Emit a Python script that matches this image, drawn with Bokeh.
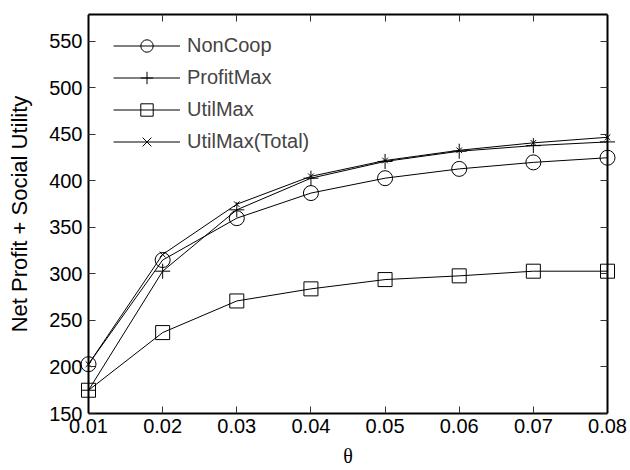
from bokeh.plotting import figure
from bokeh.models import LinearAxis, FixedTicker, Range1d, Legend, LegendItem
from bokeh.embed import file_html
from bokeh.resources import INLINE

theta = [0.01, 0.02, 0.03, 0.04, 0.05, 0.06, 0.07, 0.08]
noncoop = [203, 315, 360, 387, 403, 413, 420, 425]
profitmax = [175, 303, 369, 403, 421, 432, 438, 442]
utilmax = [175, 237, 271, 284, 294, 298, 303, 303]
utilmax_total = [203, 321, 375, 405, 422, 433, 441, 447]

x_ticks = [0.01, 0.02, 0.03, 0.04, 0.05, 0.06, 0.07, 0.08]
x_tick_labels = ["0.01", "0.02", "0.03", "0.04", "0.05", "0.06", "0.07", "0.08"]
y_ticks = [150, 200, 250, 300, 350, 400, 450, 500, 550]

X0, X1 = 0.01, 0.08
Y0, Y1 = 150, 579
PAD = 10  # px of room left/right of the axes box so edge markers are not clipped
inner_w, inner_h = 519, 399
dx = PAD * (X1 - X0) / inner_w

FONT = "Liberation Sans"

p = figure(width=630, height=470, output_backend="svg", toolbar_location=None,
           x_range=Range1d(X0 - dx, X1 + dx), y_range=Range1d(Y0, Y1),
           min_border_left=88 - PAD, min_border_right=23 - PAD,
           min_border_top=14, min_border_bottom=57,
           x_axis_location=None, y_axis_location=None)
p.xgrid.visible = False
p.ygrid.visible = False
p.outline_line_color = None
p.background_fill_color = "white"
p.border_fill_color = "white"

def style_axis(ax, show_labels=True, show_line=True):
    ax.axis_line_color = "black" if show_line else None
    ax.axis_line_width = 2
    ax.major_tick_in = 7
    ax.major_tick_out = 0
    ax.minor_tick_line_color = None
    ax.major_tick_line_color = "#333333" if show_line else None
    ax.major_tick_line_width = 1
    ax.major_label_text_font = FONT
    ax.major_label_text_font_size = "20px"
    ax.major_label_text_color = "black" if show_labels else None

# bottom axis: line, ticks, labels and the θ title
xa = LinearAxis(ticker=FixedTicker(ticks=x_ticks), bounds=(X0, X1))
style_axis(xa)
xa.major_label_overrides = {t: l for t, l in zip(x_ticks, x_tick_labels)}
xa.major_label_standoff = 5
xa.axis_label = "θ"
xa.axis_label_text_font = "Liberation Serif"
xa.axis_label_text_font_style = "normal"
xa.axis_label_text_font_size = "20px"
xa.axis_label_text_color = "black"
xa.axis_label_standoff = 9
p.add_layout(xa, "below")

# top axis: line and ticks
top = LinearAxis(ticker=FixedTicker(ticks=x_ticks), bounds=(X0, X1))
style_axis(top, show_labels=False)
p.add_layout(top, "above")

# left axis: labels only (panel); line+ticks drawn by a fixed-location axis
ya = LinearAxis(ticker=FixedTicker(ticks=y_ticks))
style_axis(ya, show_line=False)
ya.major_label_standoff = 6 - PAD
ya.axis_label = "Net Profit + Social Utility"
ya.axis_label_text_font = FONT
ya.axis_label_text_font_style = "normal"
ya.axis_label_text_font_size = "22px"
ya.axis_label_text_color = "black"
ya.axis_label_standoff = 14
p.add_layout(ya, "left")

ya_line = LinearAxis(ticker=FixedTicker(ticks=y_ticks), fixed_location=X0, bounds=(Y0, Y1))
style_axis(ya_line, show_labels=False)
p.add_layout(ya_line, "left")

right = LinearAxis(ticker=FixedTicker(ticks=y_ticks), fixed_location=X1, bounds=(Y0, Y1))
style_axis(right, show_labels=False)
p.add_layout(right, "right")

items = []
series = [
    ("NonCoop", noncoop, "circle", 15),
    ("ProfitMax", profitmax, "cross", 15),
    ("UtilMax", utilmax, "square", 14),
    ("UtilMax(Total)", utilmax_total, "x", 8),
]
for name, ys, marker, size in series:
    l = p.line(theta, ys, line_color="black", line_width=1)
    s = p.scatter(theta, ys, marker=marker, size=size, fill_color=None,
                  line_color="black", line_width=1)
    items.append(LegendItem(label=name, renderers=[l, s]))

legend = Legend(items=items, location=(25 + PAD, inner_h - 16 - 127),
                padding=0, margin=0,
                glyph_width=67, glyph_height=31, spacing=1, label_standoff=7,
                label_text_font=FONT, label_text_font_size="20px",
                border_line_color=None, background_fill_alpha=0)
p.add_layout(legend, "center")

open("out.html", "w").write(file_html(p, INLINE))
